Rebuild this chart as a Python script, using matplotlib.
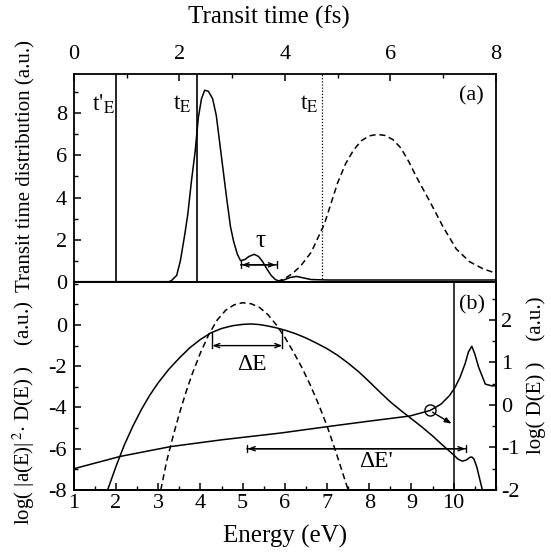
import matplotlib
matplotlib.use("Agg")
import matplotlib.pyplot as plt
from matplotlib.ticker import MultipleLocator

plt.rcParams['font.family'] = ['Liberation Serif', 'DejaVu Serif']
plt.rcParams['mathtext.fontset'] = 'stix'
plt.rcParams['axes.unicode_minus'] = False

# -----------------------------
# (a) transit time distributions
# -----------------------------
t_solid = [0.0, 1.8, 1.85, 1.95, 2.02, 2.1, 2.16, 2.23, 2.3, 2.36, 2.42, 2.48,
           2.55, 2.63, 2.7, 2.76, 2.83, 2.9, 2.97, 3.03, 3.1, 3.16, 3.24, 3.32,
           3.42, 3.5, 3.58, 3.66, 3.74, 3.82, 3.89, 3.98, 4.1, 4.22, 4.35, 4.5,
           4.8, 8.0]
dist_solid = [0.0, 0.0, 0.05, 0.3, 1.0, 2.2, 3.2, 4.8, 6.2, 7.8, 8.7, 9.1,
              9.05, 8.7, 7.9, 6.7, 5.3, 3.9, 2.6, 1.9, 1.3, 1.0, 1.05, 1.2,
              1.3, 1.2, 0.95, 0.6, 0.3, 0.1, 0.03, 0.08, 0.2, 0.25, 0.18, 0.1,
              0.08, 0.08]

t_dashed = [3.85, 4.0, 4.15, 4.3, 4.5, 4.75, 5.0, 5.15, 5.3, 5.45, 5.6, 5.75,
            5.9, 6.05, 6.2, 6.35, 6.5, 6.75, 7.0, 7.25, 7.5, 7.75, 8.0]
dist_dashed = [0.0, 0.15, 0.4, 0.75, 1.4, 2.75, 4.7, 5.6, 6.25, 6.7, 6.93,
               7.0, 6.95, 6.75, 6.35, 5.7, 4.95, 3.8, 2.6, 1.55, 0.95, 0.62,
               0.4]

t_marks_solid = [0.8, 2.33]
t_mark_dotted = 4.71
tau_span = [3.16, 3.85]

# -----------------------------
# (b) energy spectra
# -----------------------------
E_wide = [1.8, 2.0, 2.2, 2.4, 2.6, 2.8, 3.0, 3.25, 3.5, 3.75, 4.0, 4.25, 4.5,
          4.75, 5.0, 5.2, 5.4, 5.6, 5.8, 6.0, 6.25, 6.5, 6.75, 7.0, 7.25, 7.5,
          7.75, 8.0, 8.25, 8.5, 8.75, 9.0, 9.25, 9.5, 9.75, 10.0, 10.1, 10.2,
          10.3, 10.38, 10.43, 10.48, 10.55, 10.62, 10.68]
logaD_wide = [-8.0, -6.85, -5.8, -4.9, -4.1, -3.4, -2.8, -2.15, -1.6, -1.1,
              -0.7, -0.38, -0.17, -0.04, 0.03, 0.05, 0.02, -0.05, -0.14, -0.25,
              -0.42, -0.63, -0.88, -1.15, -1.47, -1.85, -2.27, -2.75, -3.25,
              -3.73, -4.15, -4.55, -4.95, -5.38, -5.85, -6.3, -6.5, -6.6,
              -6.55, -6.42, -6.4, -6.5, -6.9, -7.5, -8.0]

E_narrow = [3.06, 3.2, 3.35, 3.5, 3.65, 3.8, 4.0, 4.2, 4.4, 4.6, 4.8, 5.0,
            5.2, 5.4, 5.6, 5.8, 6.0, 6.2, 6.4, 6.6, 6.8, 7.0, 7.2, 7.35, 7.5]
logaD_narrow = [-8.0, -6.6, -5.4, -4.3, -3.3, -2.4, -1.35, -0.45, 0.25, 0.72,
                0.98, 1.08, 1.03, 0.85, 0.5, 0.0, -0.6, -1.3, -2.05, -2.9,
                -3.85, -4.9, -6.1, -7.05, -8.0]

E_dos = [1.0, 2.1, 3.29, 4.5, 5.9, 7.08, 8.0, 8.96, 9.44, 9.7, 9.9, 10.03,
         10.15, 10.27, 10.35, 10.43, 10.5, 10.59, 10.75, 10.9, 11.0]
logD = [-1.5, -1.21, -0.98, -0.82, -0.66, -0.5, -0.38, -0.26, -0.13, 0.02,
        0.22, 0.41, 0.65, 0.97, 1.25, 1.38, 1.2, 0.89, 0.49, 0.45, 0.45]

E_barrier = 10.0
dE_span = [4.28, 5.94]
dE_prime_span = [5.1, 10.3]

fig = plt.figure(figsize=(5.51, 5.57), dpi=100)
ax_a = fig.add_axes([0.134, 0.4943, 0.766, 0.3728])
ax_b = fig.add_axes([0.134, 0.1203, 0.766, 0.3740])
ax_r = ax_b.twinx()

lw = 1.1
dash = (0, (4, 2.5))


def span_arrow(ax, x0, x1, y):
    # double-headed arrow with end bars
    ax.annotate('', xy=(x0, y), xytext=(x1, y),
                arrowprops=dict(arrowstyle='|-|, widthA=0.25, widthB=0.25',
                                lw=1.0, color='black', shrinkA=0, shrinkB=0))
    ax.annotate('', xy=(x0 + 0.02, y), xytext=(x1 - 0.02, y),
                arrowprops=dict(arrowstyle='<->, head_length=0.4, head_width=0.15',
                                lw=1.0, color='black', shrinkA=0, shrinkB=0))


# --- panel (a) ---
ax_a.plot(t_solid, dist_solid, color='black', lw=lw)
ax_a.plot(t_dashed, dist_dashed, color='black', lw=lw, ls=dash)
for t in t_marks_solid:
    ax_a.axvline(t, color='black', lw=1.2)
ax_a.axvline(t_mark_dotted, color='black', lw=0.9, ls=(0, (1, 1.5)))

span_arrow(ax_a, tau_span[0], tau_span[1], 0.8)
ax_a.text(3.54, 1.95, 'τ', fontsize=18, ha='center', va='center')

ax_a.text(0.56, 8.45, r"t$'_{\mathrm{E}}$", fontsize=17, ha='center', va='center')
ax_a.text(2.05, 8.45, r"t$_{\mathrm{E}}$", fontsize=17, ha='center', va='center')
ax_a.text(4.46, 8.45, r"t$_{\mathrm{E}}$", fontsize=17, ha='center', va='center')
ax_a.text(7.54, 8.84, '(a)', fontsize=16, ha='center', va='center')

ax_a.set_xlim(0, 8)
ax_a.set_ylim(0, 9.87)
ax_a.xaxis.set_major_locator(MultipleLocator(2))
ax_a.xaxis.set_minor_locator(MultipleLocator(1))
ax_a.set_yticks([0, 2, 4, 6, 8])
ax_a.yaxis.set_minor_locator(MultipleLocator(1))
ax_a.tick_params(which='both', direction='in', top=True, labeltop=True,
                 bottom=False, labelbottom=False, right=False)
ax_a.tick_params(which='major', length=5, width=1.1, labelsize=16)
ax_a.tick_params(which='minor', length=3, width=1.0)
ax_a.tick_params(axis='x', pad=7)
ax_a.tick_params(axis='y', pad=5)

# --- panel (b) ---
ax_b.plot(E_wide, logaD_wide, color='black', lw=lw)
ax_b.plot(E_narrow, logaD_narrow, color='black', lw=lw, ls=dash)
ax_b.axvline(E_barrier, color='black', lw=1.1)

ax_b.plot([dE_span[0]] * 2, [-0.38, -1.1], color='black', lw=1.0)
ax_b.plot([dE_span[1]] * 2, [-0.22, -1.1], color='black', lw=1.0)
ax_b.annotate('', xy=(dE_span[0], -1.0), xytext=(dE_span[1], -1.0),
              arrowprops=dict(arrowstyle='<->, head_length=0.4, head_width=0.15',
                              lw=1.0, color='black', shrinkA=0, shrinkB=0))
ax_b.text(5.22, -1.9, 'ΔE', fontsize=17, ha='center', va='center')

span_arrow(ax_b, dE_prime_span[0], dE_prime_span[1], -6.0)
ax_b.text(8.17, -6.6, "ΔE'", fontsize=17, ha='center', va='center')
ax_b.text(10.44, 0.97, '(b)', fontsize=16, ha='center', va='center')

ax_b.set_xlim(1, 11)
ax_b.set_ylim(-8, 2.1)
ax_b.set_xticks(range(1, 11))
ax_b.xaxis.set_minor_locator(MultipleLocator(0.5))
ax_b.set_yticks([-8, -6, -4, -2, 0])
ax_b.yaxis.set_minor_locator(MultipleLocator(1))
ax_b.tick_params(which='both', direction='in', top=False, right=False)
ax_b.tick_params(which='major', length=5, width=1.1, labelsize=16)
ax_b.tick_params(which='minor', length=3, width=1.0)
ax_b.tick_params(axis='x', pad=3)
ax_b.tick_params(axis='y', pad=5)

# log D(E) on the right-hand scale
ax_r.plot(E_dos, logD, color='black', lw=lw)
ax_r.plot([9.44], [-0.13], marker='o', ms=8, mfc='none', mec='black', mew=1.0)
ax_r.annotate('', xy=(9.95, -0.44), xytext=(9.5, -0.17),
              arrowprops=dict(arrowstyle='-|>, head_length=0.4, head_width=0.15',
                              lw=1.0, color='black', shrinkA=0, shrinkB=0))
ax_r.set_ylim(-2, 2.9)
ax_r.set_yticks([-2, -1, 0, 1, 2])
ax_r.yaxis.set_minor_locator(MultipleLocator(0.5))
ax_r.tick_params(which='both', direction='in')
ax_r.tick_params(which='major', length=5, width=1.1, labelsize=16, pad=4)
ax_r.tick_params(which='minor', length=3, width=1.0)

for ax in (ax_a, ax_b, ax_r):
    for sp in ax.spines.values():
        sp.set_linewidth(1.3)

# axis titles
fig.text(269 / 551, 1 - 17 / 557, 'Transit time (fs)', fontsize=18,
         ha='center', va='center')
fig.text(285 / 551, 1 - 536 / 557, 'Energy (eV)', fontsize=18,
         ha='center', va='center')
fig.text(26 / 551, 1 - 166 / 557, 'Transit time distribution (a.u.)',
         fontsize=15, rotation=90, ha='center', va='center')
fig.text(24 / 551, 1 - 413 / 557,
         r'log( |a(E)|$^{\,2}$$\cdot$ D(E) )    (a.u.)',
         fontsize=15, rotation=90, ha='center', va='center')
fig.text(536 / 551, 1 - 375 / 557, 'log( D(E) )    (a.u.)',
         fontsize=15, rotation=90, ha='center', va='center')

fig.savefig('out.png', dpi=100, facecolor='white')
